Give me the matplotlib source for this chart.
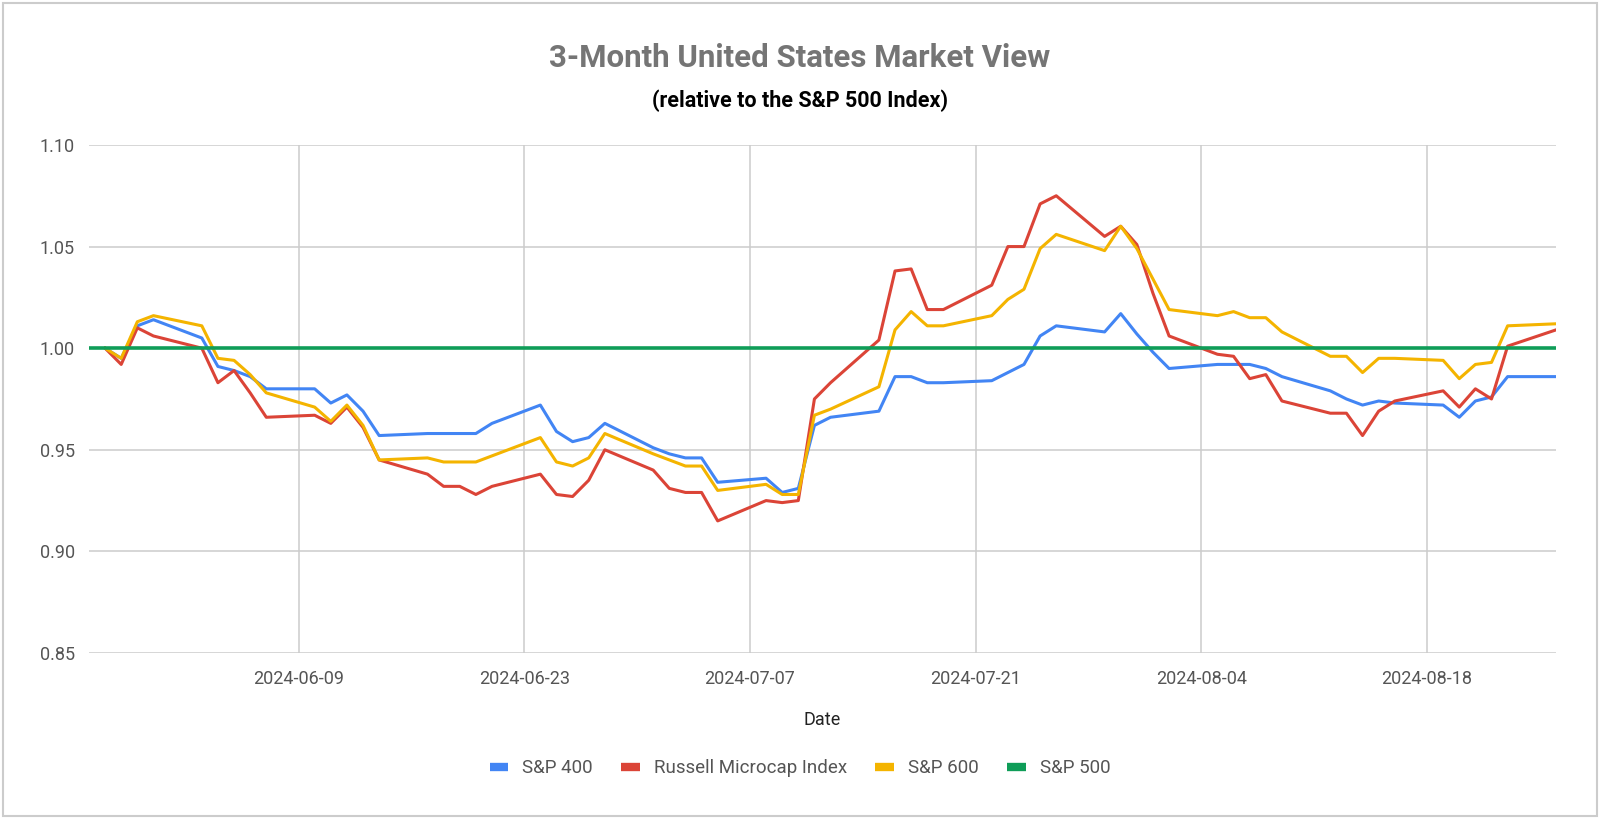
import numpy as np
import pandas as pd
import matplotlib
matplotlib.use("Agg")
import matplotlib.pyplot as plt
import matplotlib.dates as mdates
from matplotlib.lines import Line2D
from matplotlib.patches import Rectangle

dates = [
    "2024-05-27", "2024-05-28", "2024-05-29", "2024-05-30", "2024-05-31",
    "2024-06-03", "2024-06-04", "2024-06-05", "2024-06-06", "2024-06-07",
    "2024-06-10", "2024-06-11", "2024-06-12", "2024-06-13", "2024-06-14",
    "2024-06-17", "2024-06-18", "2024-06-19", "2024-06-20", "2024-06-21",
    "2024-06-24", "2024-06-25", "2024-06-26", "2024-06-27", "2024-06-28",
    "2024-07-01", "2024-07-02", "2024-07-03", "2024-07-04", "2024-07-05",
    "2024-07-08", "2024-07-09", "2024-07-10", "2024-07-11", "2024-07-12",
    "2024-07-15", "2024-07-16", "2024-07-17", "2024-07-18", "2024-07-19",
    "2024-07-22", "2024-07-23", "2024-07-24", "2024-07-25", "2024-07-26",
    "2024-07-29", "2024-07-30", "2024-07-31", "2024-08-01", "2024-08-02",
    "2024-08-05", "2024-08-06", "2024-08-07", "2024-08-08", "2024-08-09",
    "2024-08-12", "2024-08-13", "2024-08-14", "2024-08-15", "2024-08-16",
    "2024-08-19", "2024-08-20", "2024-08-21", "2024-08-22", "2024-08-23",
    "2024-08-26",
]

sp400 = [
    np.nan, 1.000, 0.995, 1.011, 1.014,
    1.005, 0.991, 0.989, 0.986, 0.980,
    0.980, 0.973, 0.977, 0.969, 0.957,
    0.958, 0.958, 0.958, 0.958, 0.963,
    0.972, 0.959, 0.954, 0.956, 0.963,
    0.951, 0.948, 0.946, 0.946, 0.934,
    0.936, 0.929, 0.931, 0.962, 0.966,
    0.969, 0.986, 0.986, 0.983, 0.983,
    0.984, 0.988, 0.992, 1.006, 1.011,
    1.008, 1.017, 1.007, 0.998, 0.990,
    0.992, 0.992, 0.992, 0.990, 0.986,
    0.979, 0.975, 0.972, 0.974, 0.973,
    0.972, 0.966, 0.974, 0.976, 0.986,
    0.986,
]

russell_micro = [
    np.nan, 1.000, 0.992, 1.010, 1.006,
    1.000, 0.983, 0.989, 0.978, 0.966,
    0.967, 0.963, 0.971, 0.961, 0.945,
    0.938, 0.932, 0.932, 0.928, 0.932,
    0.938, 0.928, 0.927, 0.935, 0.950,
    0.940, 0.931, 0.929, 0.929, 0.915,
    0.925, 0.924, 0.925, 0.975, 0.983,
    1.004, 1.038, 1.039, 1.019, 1.019,
    1.031, 1.050, 1.050, 1.071, 1.075,
    1.055, 1.060, 1.051, 1.027, 1.006,
    0.997, 0.996, 0.985, 0.987, 0.974,
    0.968, 0.968, 0.957, 0.969, 0.974,
    0.979, 0.971, 0.980, 0.975, 1.001,
    1.009,
]

sp600 = [
    np.nan, 1.000, 0.995, 1.013, 1.016,
    1.011, 0.995, 0.994, 0.987, 0.978,
    0.971, 0.964, 0.972, 0.962, 0.945,
    0.946, 0.944, 0.944, 0.944, 0.947,
    0.956, 0.944, 0.942, 0.946, 0.958,
    0.948, 0.945, 0.942, 0.942, 0.930,
    0.933, 0.928, 0.928, 0.967, 0.970,
    0.981, 1.009, 1.018, 1.011, 1.011,
    1.016, 1.024, 1.029, 1.049, 1.056,
    1.048, 1.060, 1.049, 1.034, 1.019,
    1.016, 1.018, 1.015, 1.015, 1.008,
    0.996, 0.996, 0.988, 0.995, 0.995,
    0.994, 0.985, 0.992, 0.993, 1.011,
    1.012,
]

sp500 = [1.0] * len(dates)

tick_dates = ["2024-06-09", "2024-06-23", "2024-07-07", "2024-07-21", "2024-08-04", "2024-08-18"]
y_ticks = [0.85, 0.90, 0.95, 1.00, 1.05, 1.10]

series = [
    ("S&P 400", sp400, "#4285F4"),
    ("Russell Microcap Index", russell_micro, "#DB4437"),
    ("S&P 600", sp600, "#F4B400"),
    ("S&P 500", sp500, "#0F9D58"),
]

plt.rcParams["font.family"] = ["Roboto", "DejaVu Sans"]

x = pd.to_datetime(dates)

fig = plt.figure(figsize=(16, 8.19), dpi=100)
ax = fig.add_axes([0.0556, 0.2027, 0.9169, 0.6203])

for name, vals, col in series:
    lw = 2.6 if name == "S&P 500" else 2.2
    ax.plot(x, vals, color=col, lw=lw, label=name, solid_joinstyle="round")

ax.set_xlim(pd.Timestamp("2024-05-27"), pd.Timestamp("2024-08-26"))
ax.set_ylim(0.85, 1.10)
ax.set_yticks(y_ticks)
ax.set_yticklabels([f"{v:.2f}" for v in y_ticks])
ax.set_xticks(pd.to_datetime(tick_dates))
ax.xaxis.set_major_formatter(mdates.DateFormatter("%Y-%m-%d"))

ax.grid(True, color="#cccccc", lw=1.1)
ax.set_axisbelow(True)
for s in ax.spines.values():
    s.set_visible(False)
ax.tick_params(length=0, labelsize=13, labelcolor="#555555")
ax.tick_params(axis="y", pad=10)
ax.tick_params(axis="x", pad=12)

ax.set_xlabel("Date", fontsize=13, color="#222222", labelpad=17)

fig.text(0.5, 0.929, "3-Month United States Market View", ha="center", va="center",
         fontsize=22.5, fontweight="bold", color="#757575")
fig.text(0.5, 0.877, "(relative to the S&P 500 Index)", ha="center", va="center",
         fontsize=15.5, fontweight="bold", color="#000000")

handles = [Line2D([0], [0], color=c, lw=6, solid_capstyle="butt") for _, _, c in series]
leg = fig.legend(handles, [n for n, _, _ in series], loc="center", bbox_to_anchor=(0.5, 0.062),
                 ncol=4, frameon=False, fontsize=13.5, handlelength=1.0, columnspacing=1.5,
                 handletextpad=0.75)
for t in leg.get_texts():
    t.set_color("#555555")

fig.patches.append(Rectangle((0.002, 0.004), 0.996, 0.992, transform=fig.transFigure,
                             fill=False, edgecolor="#cccccc", lw=1.5))

fig.savefig("out.png", dpi=100)
